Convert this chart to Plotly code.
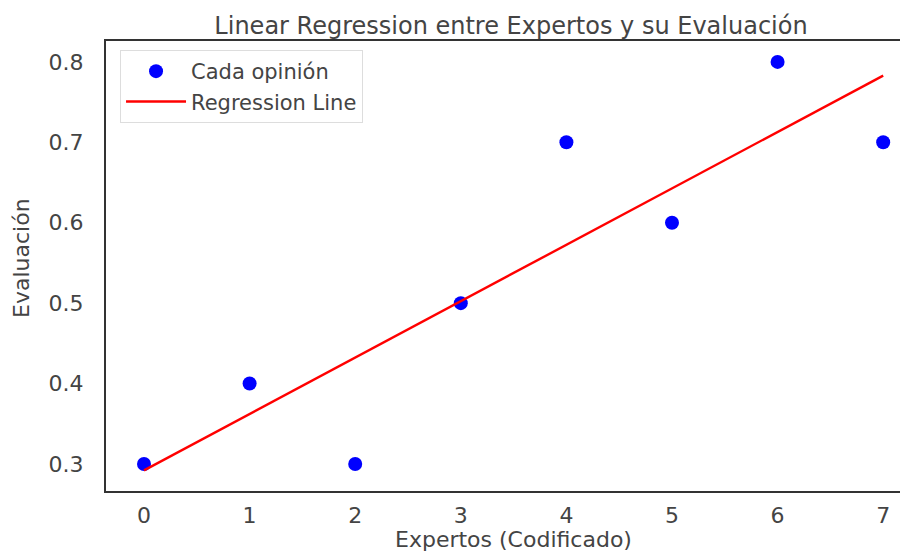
import plotly.graph_objects as go

expertos = [0, 1, 2, 3, 4, 5, 6, 7]
evaluacion = [0.3, 0.4, 0.3, 0.5, 0.7, 0.6, 0.8, 0.7]
regresion = [0.292, 0.362, 0.432, 0.502, 0.573, 0.643, 0.713, 0.783]
x_ticks = [0, 1, 2, 3, 4, 5, 6, 7]
y_ticks = [0.3, 0.4, 0.5, 0.6, 0.7, 0.8]

FONT = "DejaVu Sans"
TXT = "#444444"
FS = 22

fig = go.Figure()
fig.add_trace(go.Scatter(
    x=expertos, y=evaluacion, mode="markers", name="Cada opinión",
    marker=dict(color="#0000ff", size=14, line=dict(width=0)),
))
fig.add_trace(go.Scatter(
    x=expertos, y=regresion, mode="lines", name="Regression Line",
    line=dict(color="#ff0000", width=2.4),
))

fig.update_layout(
    width=900, height=543,
    margin=dict(l=98, r=0, t=33, b=60, autoexpand=False),
    paper_bgcolor="white", plot_bgcolor="white",
    font=dict(family=FONT, size=FS, color=TXT),
    title=dict(text="Linear Regression entre Expertos y su Evaluación",
               x=0.505, xref="paper", xanchor="center",
               y=1, yref="paper", yanchor="bottom", pad=dict(b=7),
               font=dict(family=FONT, size=24, color=TXT)),
    showlegend=True,
    legend=dict(x=0.0175, y=0.98, xanchor="left", yanchor="top",
                bgcolor="rgba(255,255,255,0.8)", bordercolor="#dddddd",
                borderwidth=1, font=dict(family=FONT, size=21, color=TXT),
                itemwidth=60, tracegroupgap=0),
    xaxis=dict(range=[-0.36, 7.235], tickvals=x_ticks, ticktext=[str(v) for v in x_ticks],
               showgrid=False, zeroline=False, showline=True, linecolor="#333333",
               linewidth=2, mirror=True, ticks="", ticklabelstandoff=4, automargin=False,
               tickfont=dict(family=FONT, size=FS, color=TXT)),
    yaxis=dict(range=[0.2664, 0.826], tickvals=y_ticks, ticktext=[f"{v:.1f}" for v in y_ticks],
               showgrid=False, zeroline=False, showline=True, linecolor="#333333",
               linewidth=2, ticks="", ticklabelstandoff=16, automargin=False,
               tickfont=dict(family=FONT, size=FS, color=TXT)),
    annotations=[
        dict(text="Expertos (Codificado)", xref="paper", yref="paper",
             x=0.5075, y=-0.107, xanchor="center", yanchor="middle", showarrow=False,
             font=dict(family=FONT, size=FS, color=TXT)),
        dict(text="Evaluación", xref="paper", yref="paper", textangle=-90,
             x=-0.1047, y=0.518, xanchor="center", yanchor="middle", showarrow=False,
             font=dict(family=FONT, size=FS, color=TXT)),
    ],
)

fig.write_html("out.html")
